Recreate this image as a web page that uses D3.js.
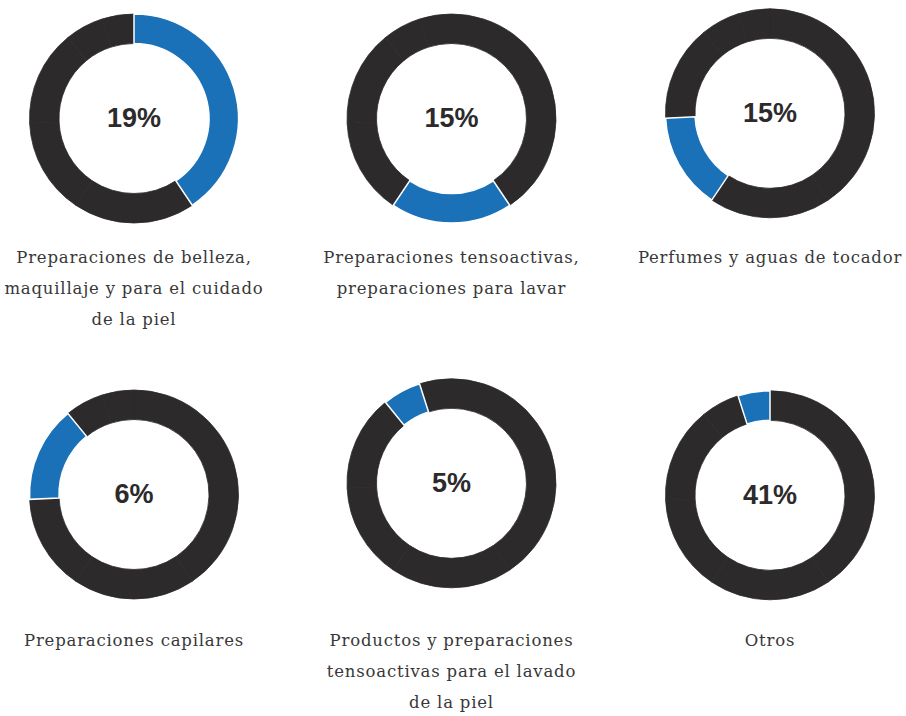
<!DOCTYPE html>
<html>
<head>
<meta charset="utf-8">
<script src="https://cdn.jsdelivr.net/npm/d3@7"></script>
<style>
  html, body { margin: 0; padding: 0; background: #fff; }
  svg { display: block; }
</style>
</head>
<body>
<div id="chart"></div>
<script>
// ---------- data ----------
const categories = [
  ["Preparaciones de belleza,", "maquillaje y para el cuidado", "de la piel"],
  ["Preparaciones tensoactivas,", "preparaciones para lavar"],
  ["Perfumes y aguas de tocador"],
  ["Preparaciones capilares"],
  ["Productos y preparaciones", "tensoactivas para el lavado", "de la piel"],
  ["Otros"]
];
const shares = [19, 15, 15, 6, 5, 41];
const centerLabels = ["19%", "15%", "15%", "6%", "5%", "41%"];

// the ring is drawn with "Otros" first, each donut highlights slice i of it
const ringOrder = [5, 0, 1, 2, 3, 4];

// ---------- layout ----------
const W = 906, H = 716;
const colX = [134, 451.5, 770];
const rowLabelY = [263, 646];
const donutY = [118.5, 118.5, 113.3, 494.5, 483.3, 495.3];
const outerR = 104.5, innerR = 75;
const lineH = 31;

const BLUE = "#1a71b8";
const DARK = "#2c2a2b";

const svg = d3.select("#chart").append("svg")
  .attr("width", W)
  .attr("height", H);

const pie = d3.pie().sort(null).value(d => d);
const arc = d3.arc().innerRadius(innerR).outerRadius(outerR);
const slices = pie(ringOrder.map(i => shares[i]));

categories.forEach((lines, i) => {
  const cx = colX[i % 3];
  const row = Math.floor(i / 3);

  const g = svg.append("g")
    .attr("transform", `translate(${cx},${donutY[i]})`);

  // dark ring (all slices, seams hidden)
  g.selectAll("path.rest")
    .data(slices.filter((d, j) => j !== i))
    .join("path")
    .attr("class", "rest")
    .attr("d", arc)
    .attr("fill", DARK)
    .attr("stroke", DARK)
    .attr("stroke-width", 0.8);

  // highlighted slice with white separators
  g.append("path")
    .datum(slices[i])
    .attr("d", arc)
    .attr("fill", BLUE)
    .attr("stroke", "#fff")
    .attr("stroke-width", 1.5);

  g.append("text")
    .attr("text-anchor", "middle")
    .attr("y", 8.5)
    .attr("font-family", "'Liberation Sans', Arial, sans-serif")
    .attr("font-weight", "bold")
    .attr("font-size", 27)
    .attr("fill", "#2c2a2b")
    .text(centerLabels[i]);

  const label = svg.append("text")
    .attr("text-anchor", "middle")
    .attr("font-family", "'DejaVu Serif', serif")
    .attr("font-size", 16.5)
    .attr("letter-spacing", 0.8)
    .attr("fill", "#383838");

  lines.forEach((t, k) => {
    label.append("tspan")
      .attr("x", cx)
      .attr("y", rowLabelY[row] + k * lineH)
      .text(t);
  });
});
</script>
</body>
</html>
